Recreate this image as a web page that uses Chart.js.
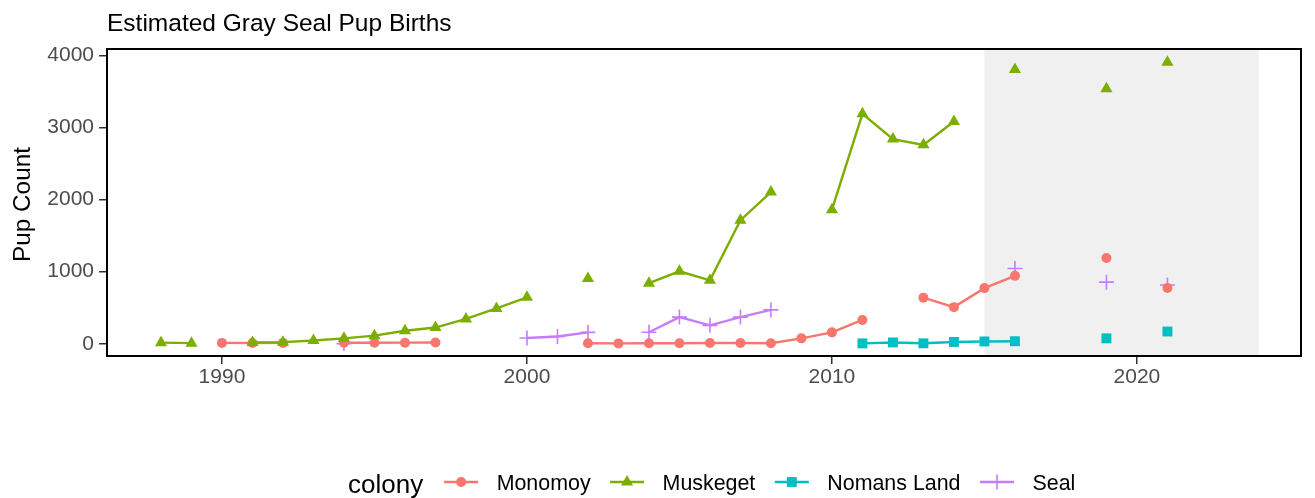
<!DOCTYPE html>
<html>
<head>
<meta charset="utf-8">
<title>Estimated Gray Seal Pup Births</title>
<script src="https://cdn.jsdelivr.net/npm/chart.js@4/dist/chart.umd.min.js"></script>
<style>
  html, body { margin: 0; padding: 0; background: #ffffff; }
  #wrap { position: relative; width: 1315px; height: 498px; }
</style>
</head>
<body>
<div id="wrap"><canvas id="chart"></canvas></div>
<script>
// Survey years (x) and pup counts per colony; null = no survey that year
const years = [1988, 1989, 1990, 1991, 1992, 1993, 1994, 1995, 1996, 1997,
               1998, 1999, 2000, 2001, 2002, 2003, 2004, 2005, 2006, 2007,
               2008, 2009, 2010, 2011, 2012, 2013, 2014, 2015, 2016, 2017,
               2018, 2019, 2020, 2021];

const monomoy = [null, null, 12, 10, 12, null, 14, 13, 15, 17,
                 null, null, null, null, 6, 5, 7, 6, 10, 10,
                 7, 75, 158, 330, null, 640, 508, 772, 942, null,
                 null, 1190, null, 775];

const muskeget = [15, 8, null, 18, 22, 45, 75, 112, 180, 225,
                  345, 490, 645, null, 905, null, 840, 1005, 880, 1715,
                  2105, null, 1860, 3190, 2840, 2760, 3085, null, 3805, null,
                  null, 3540, null, 3905];

const nomansLand = [null, null, null, null, null, null, null, null, null, null,
                    null, null, null, null, null, null, null, null, null, null,
                    null, null, null, 5, 18, 6, 25, 32, 35, null,
                    null, 75, null, 170];

const seal = [null, null, null, null, null, null, 2, null, null, null,
              null, null, 80, 100, 158, null, 160, 370, 255, 370,
              470, null, null, null, null, null, null, null, 1045, null,
              null, 855, null, 815];

const colonies = ['Monomoy', 'Muskeget', 'Nomans Land', 'Seal'];
const xTicks = [1990, 2000, 2010, 2020];
const yTicks = [0, 1000, 2000, 3000, 4000];
const recentPeriod = [2015, 2024];

const FONT = '"Liberation Sans", Arial, Helvetica, sans-serif';
const palette = ['#F8766D', '#7CAE00', '#00BFC4', '#C77CFF'];
const markers = [
  { pointStyle: 'circle',   radius: 5,   borderWidth: 0 },
  { pointStyle: 'triangle', radius: 7,   borderWidth: 0 },
  { pointStyle: 'rect',     radius: 7,   borderWidth: 0 },
  { pointStyle: 'cross',    radius: 7.5, borderWidth: 1.6 }
];
// drawing order: Muskeget on top, then Monomoy, Nomans Land, Seal
const layerOrder = [1, 0, 2, 3];
const seriesValues = [monomoy, muskeget, nomansLand, seal];

const datasets = colonies.map((name, i) => ({
  label: name,
  data: years.map((yr, k) => ({ x: yr, y: seriesValues[i][k] })),
  borderColor: palette[i],
  backgroundColor: palette[i],
  borderWidth: 2.4,
  pointStyle: markers[i].pointStyle,
  pointRadius: markers[i].radius,
  pointHoverRadius: markers[i].radius,
  pointBorderWidth: markers[i].borderWidth,
  pointBackgroundColor: palette[i],
  pointBorderColor: palette[i],
  tension: 0,
  spanGaps: false,
  order: layerOrder[i]
}));

// panel shading, panel frame, title, axis title and legend
const decorations = {
  id: 'decorations',
  beforeDatasetsDraw(chart) {
    const { ctx, chartArea, scales } = chart;
    const x1 = scales.x.getPixelForValue(recentPeriod[0]);
    const x2 = scales.x.getPixelForValue(recentPeriod[1]);
    ctx.save();
    ctx.fillStyle = '#F0F0F0';
    ctx.fillRect(x1, chartArea.top, x2 - x1, chartArea.bottom - chartArea.top);
    ctx.restore();
  },
  afterDatasetsDraw(chart) {
    const { ctx, chartArea } = chart;
    ctx.save();
    ctx.strokeStyle = '#000000';
    ctx.lineWidth = 2;
    ctx.strokeRect(chartArea.left, chartArea.top,
                   chartArea.right - chartArea.left, chartArea.bottom - chartArea.top);
    ctx.restore();
  },
  afterDraw(chart) {
    const { ctx, chartArea } = chart;
    ctx.save();
    ctx.fillStyle = '#000000';

    // plot title
    ctx.font = '24.5px ' + FONT;
    ctx.textAlign = 'left';
    ctx.textBaseline = 'alphabetic';
    ctx.fillText('Estimated Gray Seal Pup Births', chartArea.left, 31);

    // y axis title
    ctx.save();
    ctx.translate(30, (chartArea.top + chartArea.bottom) / 2 + 2);
    ctx.rotate(-Math.PI / 2);
    ctx.font = '24.3px ' + FONT;
    ctx.textAlign = 'center';
    ctx.fillText('Pup Count', 0, 0);
    ctx.restore();

    // legend
    const keyY = 482;
    let x = 348;
    ctx.font = '26px ' + FONT;
    ctx.textAlign = 'left';
    ctx.fillText('colony', x, 492.5);
    x += ctx.measureText('colony').width + 21;
    ctx.font = '21.4px ' + FONT;
    colonies.forEach((name, i) => {
      ctx.strokeStyle = palette[i];
      ctx.fillStyle = palette[i];
      ctx.lineWidth = 2.4;
      ctx.beginPath();
      ctx.moveTo(x, keyY);
      ctx.lineTo(x + 34, keyY);
      ctx.stroke();
      ctx.lineWidth = markers[i].borderWidth;
      Chart.helpers.drawPoint(ctx, {
        pointStyle: markers[i].pointStyle,
        radius: markers[i].radius,
        borderWidth: markers[i].borderWidth,
        rotation: 0
      }, x + 17, keyY);
      ctx.fillStyle = '#000000';
      const lx = x + 34 + 18.5;
      ctx.fillText(name, lx, 489.5);
      x = lx + ctx.measureText(name).width + 19.5;
    });
    ctx.restore();
  }
};

const tickFont = { family: FONT, size: 21 };

new Chart(document.getElementById('chart'), {
  type: 'line',
  data: { datasets },
  options: {
    responsive: true,
    maintainAspectRatio: false,
    animation: false,
    events: [],
    layout: { padding: { top: 49, right: 14, bottom: 102, left: 0 } },
    plugins: {
      legend: { display: false },
      title: { display: false },
      tooltip: { enabled: false }
    },
    scales: {
      x: {
        type: 'linear',
        min: 1986.23,
        max: 2025.38,
        afterBuildTicks(scale) { scale.ticks = xTicks.map(v => ({ value: v })); },
        afterFit(scale) { scale.height = 40; },
        ticks: {
          color: '#4D4D4D',
          font: tickFont,
          padding: 1,
          maxRotation: 0,
          autoSkip: false,
          callback: v => String(v)
        },
        grid: {
          display: true,
          drawOnChartArea: false,
          drawTicks: true,
          tickLength: 8,
          color: '#333333',
          lineWidth: 1.5
        },
        border: { display: false }
      },
      y: {
        type: 'linear',
        min: -170,
        max: 4090,
        afterBuildTicks(scale) { scale.ticks = yTicks.map(v => ({ value: v })); },
        afterFit(scale) { scale.width = 107; },
        ticks: {
          color: '#4D4D4D',
          font: tickFont,
          padding: 5,
          autoSkip: false,
          callback: v => String(v)
        },
        grid: {
          display: true,
          drawOnChartArea: false,
          drawTicks: true,
          tickLength: 8,
          color: '#333333',
          lineWidth: 1.5
        },
        border: { display: false }
      }
    }
  },
  plugins: [decorations]
});
</script>
</body>
</html>
